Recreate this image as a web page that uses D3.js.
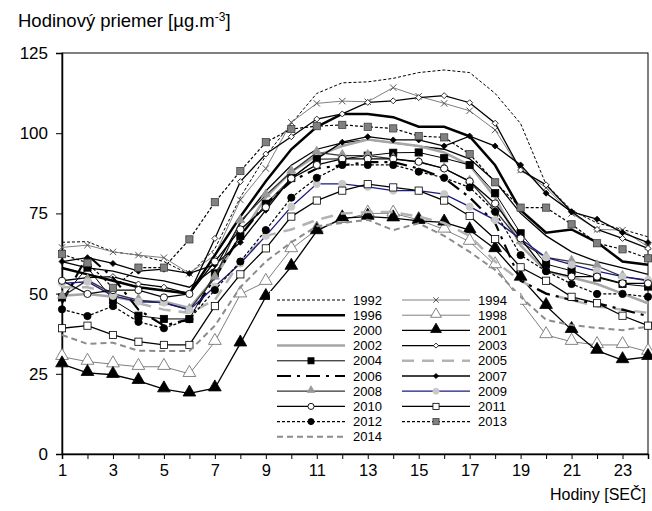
<!DOCTYPE html>
<html><head><meta charset="utf-8">
<script src="https://cdn.jsdelivr.net/npm/d3@7"></script>
<style>body{margin:0;background:#fff}svg{display:block;font-family:"Liberation Sans",Arial,sans-serif}</style>
</head><body><svg id="c" width="652" height="511"></svg>
<script>
const hours = d3.range(1, 25);
const xTickLabels = [1,3,5,7,9,11,13,15,17,19,21,23];
const yTicks = [0,25,50,75,100,125];

const y1992 = [66,66.2,63,62,60,56,64,80,93,103,112.4,115.7,116,117.1,118.9,119.7,118.9,112.4,103,84,76,72,70,67.7];
const y1994 = [64.4,65.1,63,62,61.2,56.3,62,79.2,89,103.4,109.3,110,109.8,114.2,111.5,109.3,107,101,88.5,83,75,70,69.8,64.6];
const y1996 = [58,56,54,52,51,50,62,74,85,95,102,106,106,105,102,102,99,90,76,69,70,66,60,59];
const y1998 = [30.3,28.8,28,27.2,27.2,25,35,49.8,53.7,63.9,70,73,75,75,73,70,66.2,58.9,47.5,37.1,35,34,34,31.9];
const y2000 = [60,58,57,55,54,52,58,72,82,90,95,97,98,97,96,95,92,85,75,68,63,60,58,56];
const y2001 = [28,25.3,24.7,22.8,20.2,18.9,20.5,34.5,49,58.4,69.5,73.5,74,73.5,72.7,72.2,69.8,63.9,55,46.2,38.7,32.2,29.3,30.3];
const y2002 = [49.3,49.9,49,47.5,47.5,45.5,55,68,80,88,93,96,98,97,96,94,90,80,65,57,55,53,50,47];
const y2003 = [54,55,55.3,53,52,50,67.2,84.9,93.5,98.9,104.4,106,109.6,110.1,111.1,111.7,109.5,103.1,88.5,83.9,75.5,70,67.2,64.1];
const y2004 = [48.8,58.1,48,43.1,42.1,42.1,56.3,68,78,86,91.9,92,93,93.9,94,92.2,90.1,81.3,68.8,59.2,57.1,55,53,52.2];
const y2005 = [52,52,50,47,45,44,48,60,68,70,73,75,75.4,75.4,74,72,68,60,54,50,48,46,45,44];
const y2006 = [47,62,55,45,40,42,55,68,78,85,89,90,91,91,89,86,80,72,54,50,48,47,45,43];
const y2007 = [60,61.2,59.4,57,57.6,56.3,59,66,76,86,92,97.2,98.9,97.9,97.9,96,99.1,96,90.1,81.3,75.5,73.2,69,65.9];
const y2008 = [49,54.2,50,48,47,45,55,72.6,80.7,88,94,93,93,92,91,89,85,76,66,61.3,60,58.6,55.3,54];
const y2009 = [53.2,53.7,49.3,47.5,47.2,44.9,52.2,59.4,68,77.1,84.2,84.2,83.3,82.1,82.1,81,77.1,72.9,67,61.3,59,57,55.3,54.2];
const y2010 = [54,49.9,51.1,51.1,48.8,49.9,60,70,76.9,85.9,90.1,92,92,92,91.1,89,85,78.1,67.2,57.1,55.3,55.3,53.2,53.2];
const y2011 = [39.2,40,37.1,35,34,34,46.1,56,64.1,74,79,82.1,84.1,83.1,82.1,79,74.2,67,58.2,54,49,47,43.1,40];
const y2012 = [45.1,43,46.1,41.2,39.2,42,51.1,60,69.8,79.9,86.1,90.1,90.1,90.1,88,86.1,83.1,75.5,62,57,53,49.9,49.9,49];
const y2013 = [62.3,59.6,51.8,58.1,58.1,66.9,78.5,88.2,97.2,101.3,102.2,102.6,102,101.5,99.1,98.7,93.5,84.7,76.8,76.8,71.6,65.7,63.8,61];
const y2014 = [37.1,34.3,34.7,32.2,32.1,32.1,40,52,60,66,71,72,73,69.8,71.9,68,63,57.4,49,41.8,40.2,39.3,38.6,39.7];

const series = [
 {name:"1992", v:y1992, color:"#000", w:1, dash:"3,2", m:null},
 {name:"1994", v:y1994, color:"#808080", w:1, dash:null, m:"x"},
 {name:"1996", v:y1996, color:"#000", w:2.5, dash:null, m:null},
 {name:"1998", v:y1998, color:"#808080", w:1, dash:null, m:"tri-open"},
 {name:"2000", v:y2000, color:"#000", w:1.3, dash:null, m:null},
 {name:"2001", v:y2001, color:"#000", w:1.3, dash:null, m:"tri"},
 {name:"2002", v:y2002, color:"#a6a6a6", w:2.5, dash:null, m:null},
 {name:"2003", v:y2003, color:"#000", w:1.3, dash:null, m:"dia-open"},
 {name:"2004", v:y2004, color:"#000", w:1, dash:null, m:"sq"},
 {name:"2005", v:y2005, color:"#b3b3b3", w:2.5, dash:"12,8", m:null},
 {name:"2006", v:y2006, color:"#000", w:2.2, dash:"14,6,3,6", m:null},
 {name:"2007", v:y2007, color:"#000", w:1.3, dash:null, m:"dia"},
 {name:"2008", v:y2008, color:"#333", w:1.3, dash:null, m:"tri-gray"},
 {name:"2009", v:y2009, color:"#1a1a80", w:1.3, dash:null, m:"circ-gray"},
 {name:"2010", v:y2010, color:"#000", w:1.3, dash:null, m:"circ-open"},
 {name:"2011", v:y2011, color:"#000", w:1.3, dash:null, m:"sq-open"},
 {name:"2012", v:y2012, color:"#000", w:1.2, dash:"3,2", m:"circ"},
 {name:"2013", v:y2013, color:"#000", w:1.2, dash:"3,2", m:"sq-gray"},
 {name:"2014", v:y2014, color:"#8c8c8c", w:2, dash:"6,4", m:null}
];

const svg = d3.select("#c");
const x = d3.scalePoint().domain(hours).range([62, 648]);
const y = d3.scaleLinear().domain([0,125]).range([454, 53]);

svg.append("rect").attr("x",62).attr("y",53).attr("width",586).attr("height",401)
  .attr("fill","none").attr("stroke","#000").attr("stroke-width",1);

const yAxis = svg.append("g").attr("transform","translate(62,0)")
  .call(d3.axisLeft(y).tickValues(yTicks).tickSize(6).tickPadding(8));
yAxis.select(".domain").attr("stroke-width",1.5);
yAxis.selectAll("text").attr("font-size",17).attr("fill","#000");

const xAxis = svg.append("g").attr("transform","translate(0,454)")
  .call(d3.axisBottom(x).tickValues(hours).tickSize(5).tickPadding(5)
    .tickFormat(d => xTickLabels.includes(d) ? d : ""));
xAxis.selectAll("text").attr("font-size",16.5).attr("fill","#000");
xAxis.select(".domain").attr("stroke-width",1.5);

svg.append("text").attr("x",18).attr("y",27).attr("font-size",18.5)
  .html('Hodinový priemer [µg.m<tspan dy="-6" font-size="12">-3</tspan><tspan dy="6">]</tspan>');
svg.append("text").attr("x",646).attr("y",500).attr("text-anchor","end").attr("font-size",16).text("Hodiny [SEČ]");

function drawMarker(g, type, cx, cy, s) {
  s = s || 1;
  if (!type) return;
  if (type === "x") {
    const r = 3.2*s;
    g.append("path").attr("d",`M${cx-r},${cy-r}L${cx+r},${cy+r}M${cx-r},${cy+r}L${cx+r},${cy-r}`)
      .attr("stroke","#555").attr("stroke-width",1);
  } else if (type.startsWith("tri")) {
    const fill = type==="tri" ? "#000" : type==="tri-open" ? "#fff" : "#999";
    const stroke = type==="tri" ? "#000" : type==="tri-open" ? "#666" : "#999";
    const sz = type==="tri-gray" ? 35 : 70;
    g.append("path").attr("d", d3.symbol(d3.symbolTriangle, sz*s*s)())
      .attr("transform",`translate(${cx},${cy-1})`).attr("fill",fill).attr("stroke",stroke).attr("stroke-width",0.8);
  } else if (type.startsWith("dia")) {
    const r = 3*s;
    g.append("path").attr("d",`M${cx},${cy-r}L${cx+r},${cy}L${cx},${cy+r}L${cx-r},${cy}Z`)
      .attr("fill", type==="dia" ? "#000" : "#fff").attr("stroke","#000").attr("stroke-width",0.8);
  } else if (type.startsWith("sq")) {
    const h = 3.6*s;
    const fill = type==="sq" ? "#000" : type==="sq-open" ? "#fff" : "#808080";
    g.append("rect").attr("x",cx-h).attr("y",cy-h).attr("width",2*h).attr("height",2*h)
      .attr("fill",fill).attr("stroke", type==="sq-gray" ? "#404040" : "#000").attr("stroke-width",0.8);
  } else if (type.startsWith("circ")) {
    const fill = type==="circ" ? "#000" : type==="circ-open" ? "#fff" : "#c8c8c8";
    const stroke = type==="circ-gray" ? "#c8c8c8" : "#000";
    g.append("circle").attr("cx",cx).attr("cy",cy).attr("r",3.6*s)
      .attr("fill",fill).attr("stroke",stroke).attr("stroke-width",0.9);
  }
}

const line = d3.line().x((d,i)=>x(hours[i])).y(d=>y(d));
const plot = svg.append("g");
series.forEach(s => {
  const g = plot.append("g");
  g.append("path").attr("d", line(s.v)).attr("fill","none").attr("stroke",s.color)
    .attr("stroke-width",s.w).attr("stroke-dasharray",s.dash);
  s.v.forEach((v,i) => drawMarker(g, s.m, x(hours[i]), y(v)));
});

const lg = svg.append("g");
lg.append("rect").attr("x",270).attr("y",291).attr("width",250).attr("height",154).attr("fill","#fff");
const rows = [["1992","1994"],["1996","1998"],["2000","2001"],["2002","2003"],["2004","2005"],["2006","2007"],["2008","2009"],["2010","2011"],["2012","2013"],["2014",null]];
rows.forEach((r,ri) => {
  r.forEach((nm,ci) => {
    if (!nm) return;
    const s = series.find(d=>d.name===nm);
    const x0 = ci===0 ? 277 : 402, yy = 300 + ri*15.2;
    lg.append("line").attr("x1",x0).attr("x2",x0+68).attr("y1",yy).attr("y2",yy)
      .attr("stroke",s.color).attr("stroke-width",s.w).attr("stroke-dasharray",s.dash);
    drawMarker(lg, s.m, x0+34, yy, 0.85);
    lg.append("text").attr("x",x0+76).attr("y",yy+4.5).attr("font-size",13).text(nm);
  });
});
</script></body></html>
